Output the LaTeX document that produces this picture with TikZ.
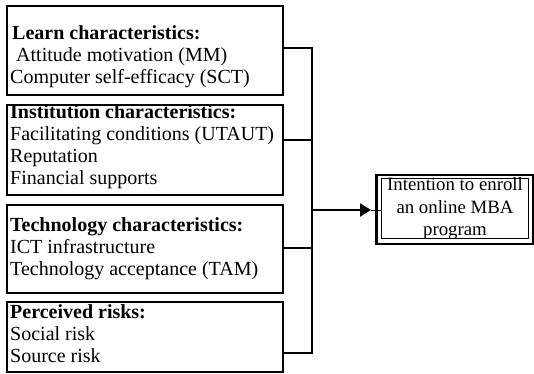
\documentclass[tikz,border=0pt]{standalone}
\usepackage{fontspec}
\setmainfont{Liberation Serif}
\usetikzlibrary{arrows.meta,calc}
\begin{document}
\begin{tikzpicture}[x=1pt,y=-1pt,
  box/.style={draw,line width=2pt,rectangle,inner sep=0pt,anchor=north west},
  txt/.style={anchor=base west,inner sep=0pt,font=\fontsize{20}{22}\selectfont},
  ctxt/.style={anchor=base,inner sep=0pt,font=\fontsize{18.8}{22}\selectfont},
  conn/.style={line width=2.2pt},
  arr/.style={line width=2.2pt,-{Triangle[length=11pt,width=13pt]}}]
\useasboundingbox (0,0) rectangle (534,373);
% left boxes
\node[box,minimum width=276pt,minimum height=89pt] (b1) at (6,5) {};
\node[box,minimum width=276pt,minimum height=90pt] (b2) at (6,104) {};
\node[box,minimum width=276pt,minimum height=88pt] (b3) at (6,204) {};
\node[box,minimum width=276pt,minimum height=70pt] (b4) at (6,301) {};
% texts
\node[txt] (t11) at (12,39) {\textbf{Learn characteristics:}};
\node[txt] (t12) at (16,61) {Attitude motivation (MM)};
\node[txt] (t13) at (10,83) {Computer self-efficacy (SCT)};
\node[txt] (t21) at (10,118) {\textbf{Institution characteristics:}};
\node[txt] (t22) at (10,140) {Facilitating conditions (UTAUT)};
\node[txt] (t23) at (10,162) {Reputation};
\node[txt] (t24) at (10,184) {Financial supports};
\node[txt] (t31) at (10,231) {\textbf{Technology characteristics:}};
\node[txt] (t32) at (10,253) {ICT infrastructure};
\node[txt] (t33) at (10,275) {Technology acceptance (TAM)};
\node[txt] (t41) at (10,318) {\textbf{Perceived risks:}};
\node[txt] (t42) at (10,340) {Social risk};
\node[txt] (t43) at (10,362) {Source risk};
% target box
\node[draw,line width=2.6pt,rectangle,inner sep=0pt,minimum width=157pt,minimum height=69pt,anchor=north west] (out) at (375,173.5) {};
\node[draw,line width=0.9pt,rectangle,inner sep=0pt,minimum width=147pt,minimum height=60pt,anchor=north west] (in) at (381,178) {};
\node[ctxt] (o1) at (455,190) {Intention to enroll};
\node[ctxt] (o2) at (455,213) {an online MBA};
\node[ctxt] (o3) at (455,235) {program};
% connectors
\coordinate (j1) at (312,48);
\coordinate (j4) at (312,353);
\coordinate (ja) at (312,210);
\coordinate (tip) at (371,210);
\draw[conn] ([yshift=-43pt]b1.north east) -- (j1);
\draw[conn] ([yshift=-36pt]b2.north east) -- (312,140);
\draw[conn] ([yshift=-44pt]b3.north east) -- (312,248);
\draw[conn] ([yshift=-52pt]b4.north east) -- (j4);
\draw[conn] ([yshift=1.1pt]j1) -- ([yshift=-1.1pt]j4);
\draw[arr] (ja) -- (tip);
\draw[line width=0.9pt] (tip) -- (in.west |- tip);
\end{tikzpicture}
\end{document}
